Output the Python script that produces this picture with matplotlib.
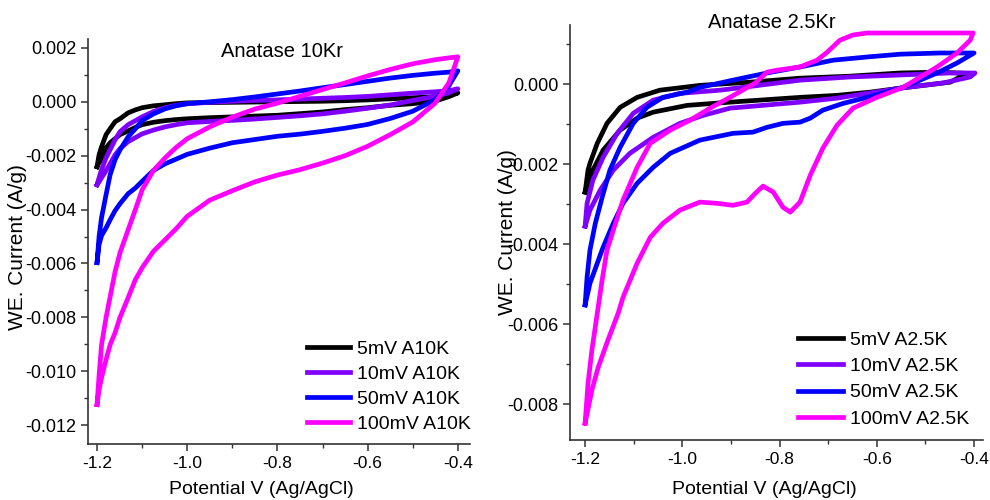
import matplotlib
matplotlib.use("Agg")
import matplotlib.pyplot as plt
from matplotlib.ticker import MultipleLocator, FormatStrFormatter

plt.rcParams['font.family'] = ['Liberation Sans', 'DejaVu Sans']
plt.rcParams['axes.unicode_minus'] = False

# ---- left panel: Anatase 10Kr, currents in units of 1e-3 A/g ----
v_left = [-1.2, -1.1955, -1.19, -1.18, -1.171, -1.16, -1.149, -1.131, -1.115, -1.1,
          -1.075, -1.049, -1.025, -1.0, -0.95, -0.9, -0.85, -0.8, -0.75, -0.701,
          -0.65, -0.6, -0.55, -0.5, -0.451, -0.42, -0.4]

a10_5_up = [-2.41, -1.97, -1.67, -1.22, -1.0, -0.74, -0.63, -0.41, -0.3, -0.22,
            -0.15, -0.11, -0.07, -0.04, -0.03, -0.02, -0.01, 0.0, 0.01, 0.02,
            0.04, 0.07, 0.11, 0.15, 0.19, 0.26, 0.33]
a10_5_dn = [-2.41, -2.26, -2.15, -1.71, -1.52, -1.37, -1.22, -1.08, -0.95, -0.85,
            -0.76, -0.70, -0.66, -0.63, -0.59, -0.56, -0.53, -0.5, -0.44, -0.38,
            -0.29, -0.22, -0.13, -0.07, 0.02, 0.19, 0.33]

a10_10_up = [-3.08, -2.82, -2.52, -2.08, -1.78, -1.41, -1.11, -0.85, -0.7, -0.56,
             -0.36, -0.22, -0.13, -0.07, -0.02, 0.02, 0.05, 0.07, 0.1, 0.13,
             0.16, 0.2, 0.26, 0.32, 0.37, 0.41, 0.48]
a10_10_dn = [-3.08, -2.97, -2.82, -2.56, -2.3, -1.97, -1.74, -1.48, -1.33, -1.19,
             -1.05, -0.93, -0.85, -0.78, -0.73, -0.69, -0.64, -0.58, -0.52, -0.45,
             -0.35, -0.24, -0.12, 0.05, 0.2, 0.33, 0.48]

a10_50_up = [-5.97, -5.0, -4.3, -3.45, -2.71, -2.15, -1.78, -1.3, -1.0, -0.7,
             -0.45, -0.26, -0.15, -0.07, 0.0, 0.08, 0.18, 0.29, 0.4, 0.52,
             0.64, 0.76, 0.88, 0.98, 1.06, 1.1, 1.15]
a10_50_dn = [-5.97, -5.3, -4.97, -4.68, -4.38, -4.04, -3.78, -3.41, -3.2, -2.95,
             -2.55, -2.3, -2.13, -1.95, -1.72, -1.52, -1.4, -1.28, -1.2, -1.1,
             -0.98, -0.84, -0.62, -0.35, 0.07, 0.59, 1.15]

a10_100_up = [-11.24, -10.17, -9.02, -8.01, -7.24, -6.31, -5.6, -4.75, -4.0, -3.27,
              -2.55, -2.08, -1.7, -1.37, -0.93, -0.57, -0.27, -0.05, 0.2, 0.45,
              0.7, 0.96, 1.2, 1.41, 1.56, 1.63, 1.67]
a10_100_dn = [-11.24, -10.69, -10.24, -9.57, -9.02, -8.57, -8.0, -7.27, -6.6, -6.16,
              -5.55, -5.12, -4.72, -4.25, -3.65, -3.3, -2.97, -2.72, -2.52, -2.28,
              -2.0, -1.65, -1.22, -0.75, -0.06, 0.7, 1.67]

labels_left = ['5mV A10K', '10mV A10K', '50mV A10K', '100mV A10K']

# ---- right panel: Anatase 2.5Kr, currents in units of 1e-3 A/g ----
a25_5_v = [-1.2, -1.194, -1.19, -1.175, -1.155, -1.128, -1.093, -1.046, -0.964, -0.861,
           -0.758, -0.655, -0.552, -0.47, -0.415,
           -0.449, -0.552, -0.614, -0.682, -0.758, -0.902, -0.99, -1.06, -1.093, -1.128,
           -1.163, -1.184, -1.2]
a25_5_i = [-2.7, -2.15, -1.98, -1.48, -0.98, -0.58, -0.33, -0.15, -0.03, 0.05,
           0.15, 0.2, 0.28, 0.3, 0.27,
           0.05, -0.1, -0.2, -0.28, -0.33, -0.45, -0.53, -0.7, -0.85, -1.15,
           -1.65, -2.15, -2.7]

a25_10_v = [-1.2, -1.196, -1.184, -1.163, -1.134, -1.101, -1.06, -1.005, -0.922, -0.758,
            -0.655, -0.552, -0.449, -0.398,
            -0.408, -0.464, -0.552, -0.682, -0.758, -0.902, -0.957, -1.005, -1.06, -1.108,
            -1.142, -1.169, -1.19, -1.2]
a25_10_i = [-3.55, -2.98, -2.4, -1.83, -1.23, -0.73, -0.4, -0.23, -0.15, 0.1,
            0.18, 0.23, 0.28, 0.28,
            0.18, 0.03, -0.1, -0.35, -0.45, -0.6, -0.78, -0.98, -1.33, -1.73,
            -2.15, -2.65, -3.15, -3.55]

a25_50_v = [-1.2, -1.196, -1.19, -1.179, -1.165, -1.149, -1.128, -1.101, -1.073, -1.04,
            -0.99, -0.964, -0.896, -0.826, -0.758, -0.69, -0.62, -0.552, -0.47, -0.4,
            -0.435, -0.476, -0.546, -0.62, -0.669, -0.711, -0.737, -0.758, -0.793, -0.826,
            -0.855, -0.896, -0.964, -1.025, -1.06, -1.093, -1.122, -1.142, -1.163, -1.175,
            -1.19, -1.2]
a25_50_i = [-5.52, -4.83, -4.15, -3.48, -2.83, -2.15, -1.58, -0.98, -0.58, -0.33,
            -0.2, -0.08, 0.1, 0.28, 0.43, 0.6, 0.68, 0.75, 0.78, 0.78,
            0.53, 0.28, -0.08, -0.33, -0.48, -0.65, -0.85, -0.95, -0.98, -1.08,
            -1.2, -1.23, -1.4, -1.73, -2.08, -2.48, -2.98, -3.48, -4.08, -4.48,
            -4.98, -5.52]

a25_100_v = [-1.2, -1.194, -1.186, -1.175, -1.165, -1.155, -1.142, -1.122, -1.093, -1.066,
             -1.025, -0.984, -0.943, -0.902, -0.85, -0.826, -0.805, -0.758, -0.723, -0.702,
             -0.676, -0.649, -0.62, -0.511, -0.402,
             -0.408, -0.435, -0.476, -0.546, -0.6, -0.649, -0.682, -0.711, -0.737, -0.758,
             -0.778, -0.793, -0.813, -0.834, -0.85, -0.867, -0.896, -0.929, -0.964, -1.005,
             -1.04, -1.066, -1.093, -1.122, -1.132, -1.153, -1.173, -1.186, -1.2]
a25_100_i = [-8.48, -7.48, -6.65, -5.73, -4.9, -4.15, -3.65, -2.9, -2.08, -1.48,
             -1.15, -0.9, -0.6, -0.33, 0.03, 0.3, 0.35, 0.43, 0.6, 0.8,
             1.1, 1.23, 1.28, 1.28, 1.28,
             1.1, 0.78, 0.43, -0.08, -0.33, -0.6, -1.03, -1.6, -2.28, -2.95,
             -3.2, -3.08, -2.7, -2.55, -2.73, -2.95, -3.03, -2.98, -2.95, -3.15,
             -3.48, -3.83, -4.48, -5.33, -5.73, -6.4, -7.08, -7.65, -8.48]

labels_right = ['5mV A2.5K', '10mV A2.5K', '50mV A2.5K', '100mV A2.5K']

colors = ['#000000', '#7F00FF', '#0000FF', '#FF00FF']


def style_axes(ax):
    for s in ['top', 'right']:
        ax.spines[s].set_visible(False)
    for s in ['left', 'bottom']:
        ax.spines[s].set_color('#333333')
        ax.spines[s].set_linewidth(1.2)
    ax.xaxis.set_major_locator(MultipleLocator(0.2))
    ax.xaxis.set_minor_locator(MultipleLocator(0.1))
    ax.yaxis.set_major_locator(MultipleLocator(0.002))
    ax.yaxis.set_minor_locator(MultipleLocator(0.001))
    ax.xaxis.set_major_formatter(FormatStrFormatter('%.1f'))
    ax.yaxis.set_major_formatter(FormatStrFormatter('%.3f'))
    ax.tick_params(which='major', direction='out', length=5, width=1.1, color='#333333')
    ax.tick_params(axis='x', labelsize=12.5)
    ax.tick_params(axis='y', labelsize=13)
    ax.tick_params(which='minor', direction='out', length=3, width=1.0, color='#333333')


fig = plt.figure(figsize=(9.9, 5.0), dpi=100)
ax1 = fig.add_axes([0.0889, 0.112, 0.3859, 0.81])
ax2 = fig.add_axes([0.5758, 0.12, 0.4172, 0.83])

# left panel loops: forward sweep then back
left_up = [a10_5_up, a10_10_up, a10_50_up, a10_100_up]
left_dn = [a10_5_dn, a10_10_dn, a10_50_dn, a10_100_dn]
for up, dn, c, lab in zip(left_up, left_dn, colors, labels_left):
    v = v_left + v_left[::-1]
    cur = [x * 1e-3 for x in up + dn[::-1]]
    ax1.plot(v, cur, color=c, lw=3.4, label=lab, solid_joinstyle='round')

# right panel loops
right_v = [a25_5_v, a25_10_v, a25_50_v, a25_100_v]
right_i = [a25_5_i, a25_10_i, a25_50_i, a25_100_i]
for v, cur, c, lab in zip(right_v, right_i, colors, labels_right):
    ax2.plot(v, [x * 1e-3 for x in cur], color=c, lw=3.4, label=lab,
             solid_joinstyle='round')

ax1.set_xlim(-1.22, -0.373)
ax1.set_ylim(-0.0127, 0.00233)
ax2.set_xlim(-1.231, -0.3815)
ax2.set_ylim(-0.0089, 0.00148)

for ax in (ax1, ax2):
    style_axes(ax)
    ax.set_xlabel('Potential V (Ag/AgCl)', fontsize=14)
    ax.set_ylabel('WE. Current (A/g)', fontsize=15)

ax1.xaxis.set_label_coords(0.455, -0.091)
ax1.yaxis.set_label_coords(-0.16, 0.486)
ax2.xaxis.set_label_coords(0.47, -0.099)
ax2.yaxis.set_label_coords(-0.129, 0.50)

ax1.text(0.508, 0.968, 'Anatase 10Kr', transform=ax1.transAxes,
         ha='center', va='center', fontsize=14.5)
ax2.text(0.489, 1.0055, 'Anatase 2.5Kr', transform=ax2.transAxes,
         ha='center', va='center', fontsize=14.5)

ax1.legend(loc='upper left', bbox_to_anchor=(0.573, 0.2555), frameon=False,
           fontsize=14, handlelength=2.2, handletextpad=0.36, labelspacing=0.38,
           borderpad=0, borderaxespad=0)
ax2.legend(loc='upper left', bbox_to_anchor=(0.552, 0.2614), frameon=False,
           fontsize=14, handlelength=2.3, handletextpad=0.36, labelspacing=0.44,
           borderpad=0, borderaxespad=0)

fig.savefig('out.png', dpi=100)
